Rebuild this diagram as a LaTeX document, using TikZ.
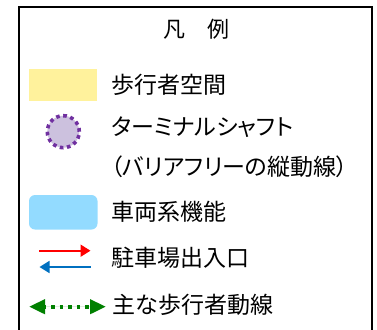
\documentclass[tikz,border=0pt]{standalone}
\usepackage{fontspec}
\newfontfamily\jp{Noto Sans CJK JP}
\newfontfamily\jpp[RawFeature=+palt]{Noto Sans CJK JP}
\usetikzlibrary{arrows.meta}
\definecolor{walkyellow}{HTML}{FFF29C}
\definecolor{carblue}{HTML}{93DBFF}
\definecolor{shaftfill}{HTML}{CCC1DE}
\definecolor{shaftdot}{HTML}{7030A0}
\definecolor{inred}{HTML}{FF0000}
\definecolor{outblue}{HTML}{0070C0}
\definecolor{walkgreen}{HTML}{008000}
\begin{document}
\begin{tikzpicture}[x=1pt,y=-1pt,
  lbl/.style={anchor=west, inner sep=0pt, font=\jp\fontsize{23}{27}\selectfont},
  plbl/.style={anchor=west, inner sep=0pt, font=\jpp\fontsize{23}{27}\selectfont},
  frameline/.style={line width=1.5pt, draw=black},
  parkarrow/.style={line width=1.8pt, -{Triangle[length=10pt,width=12pt]}},
  walkarrow/.style={line width=4pt, draw=walkgreen, dash pattern=on 3.6pt off 4.9pt, dash phase=1.5pt,
     {Triangle[length=16pt,width=14pt]}-{Triangle[length=16pt,width=14pt]}}]
\useasboundingbox (0,0) rectangle (377,329);
% frame (open at the bottom edge)
\coordinate (fbl) at (19,333);
\coordinate (ftl) at (19,7);
\coordinate (ftr) at (372,7);
\coordinate (fbr) at (372,333);
\draw[frameline] (fbl) -- (ftl) -- (ftr) -- (fbr);
% title
\node[font=\jp\fontsize{22}{26}\selectfont, inner sep=0pt] (title) at (196,29) {凡　例};
% pedestrian space
\fill[walkyellow] (29,69) rectangle (97,101);
\node[lbl] (t1) at (111,85) {歩行者空間};
% terminal shaft
\node[circle, minimum size=32pt, inner sep=0pt, fill=shaftfill, draw=shaftdot, line width=3.6pt,
      dash pattern=on 3.6pt off 3.58pt] (shaft) at (63.3,131.7) {};
\node[plbl] (t2) at (111,127) {ターミナルシャフト};
\node[plbl] (t3) at (111,167) {（バリアフリーの縦動線）};
% vehicle functions
\fill[carblue, rounded corners=6pt] (29,195) rectangle (97.5,229.5);
\node[lbl] (t4) at (111,212) {車両系機能};
% parking entrance/exit
\coordinate (ra) at (39,250.7);
\coordinate (rb) at (90.5,250.7);
\coordinate (ba) at (90.5,267);
\coordinate (bb) at (39.5,267);
\draw[parkarrow, draw=inred, fill=inred] (ra) -- (rb);
\draw[parkarrow, draw=outblue, fill=outblue] (ba) -- (bb);
\node[lbl] (t5) at (111,258) {駐車場出入口};
% main pedestrian flow
\coordinate (ga) at (29,306.7);
\coordinate (gb) at (106,306.7);
\draw[walkarrow, fill=walkgreen] (ga) -- (gb);
\node[lbl] (t6) at (112,305) {主な歩行者動線};
\end{tikzpicture}
\end{document}
